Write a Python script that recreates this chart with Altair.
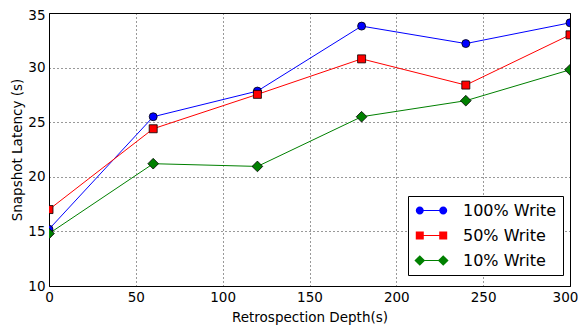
import altair as alt
import pandas as pd

depth = [0, 60, 120, 180, 240, 300]
series_names = ["100% Write", "50% Write", "10% Write"]
write100 = [15.2, 25.5, 27.85, 33.8, 32.2, 34.1]
write50 = [17.0, 24.4, 27.55, 30.8, 28.4, 33.0]
write10 = [14.8, 21.2, 20.95, 25.5, 26.97, 29.8]
x_ticks = [0, 50, 100, 150, 200, 250, 300]
y_ticks = [10, 15, 20, 25, 30, 35]

colors = ["#0000ff", "#ff0000", "#008000"]
shapes = ["circle", "square", "diamond"]
marker_sizes = [64, 64, 114]

rows = []
for rank, (name, vals) in enumerate(zip(series_names, [write100, write50, write10]), start=1):
    for d, v in zip(depth, vals):
        rows.append({"depth": d, "latency": v, "series": name, "rank": rank})
df = pd.DataFrame(rows)

FONT = "DejaVu Sans"

# legend glyphs (matplotlib style: marker - line - marker), unit coords of the legend symbol
L, R = -0.34, 2.59


def pair_circle(r=0.5):
    out = ""
    for c in (L, R):
        out += f"M{c + r},0A{r},{r} 0 1,1 {c - r},0A{r},{r} 0 1,1 {c + r},0Z"
    return out


def pair_square(r=0.5):
    return "".join(f"M{c - r},{-r}L{c + r},{-r}L{c + r},{r}L{c - r},{r}Z" for c in (L, R))


def pair_diamond(d=0.67):
    return "".join(f"M{c},{-d}L{c + d},0L{c},{d}L{c - d},0Z" for c in (L, R))


legend_glyphs = [pair_circle(), pair_square(), pair_diamond()]

x = alt.X("depth:Q", title="Retrospection Depth(s)",
          scale=alt.Scale(domain=[0, 300], nice=False),
          axis=alt.Axis(values=x_ticks, format="d",
                        labelOffset={"condition": {"test": "datum.value == 300", "value": -5},
                                     "value": 0}))
y = alt.Y("latency:Q", title="Snapshot Latency (s)",
          scale=alt.Scale(domain=[10, 35], nice=False),
          axis=alt.Axis(values=y_ticks, format="d",
                        labelOffset={"condition": {"test": "datum.value == 35", "value": 2},
                                     "value": 0}))

LX, LY = 359, 183
common_leg = dict(title=None, orient="none", legendX=LX, legendY=LY, padding=6,
                  symbolSize=256, symbolStrokeWidth=1, rowPadding=8,
                  labelFontSize=16, labelFont=FONT, labelOffset=32)

base = alt.Chart(df)

lines = base.mark_line(strokeWidth=1, clip=True).encode(
    x=x, y=y,
    color=alt.Color("series:N", scale=alt.Scale(domain=series_names, range=colors),
                    legend=alt.Legend(symbolType=f"M{L},0L{R},0", strokeColor="black",
                                      fillColor="white", labelColor="black", **common_leg)),
)

legend_layer = base.mark_point(filled=True, opacity=0).encode(
    x=x, y=y,
    fill=alt.Fill("rank:N", scale=alt.Scale(range=colors),
                  legend=alt.Legend(symbolStrokeColor="black", symbolOpacity=1,
                                    labelExpr="''", **common_leg)),
    shape=alt.Shape("rank:N", scale=alt.Scale(range=legend_glyphs),
                    legend=alt.Legend(symbolStrokeColor="black", symbolOpacity=1,
                                      labelExpr="''", **common_leg)),
)

point_layers = []
for name, col, shp, sz in zip(series_names, colors, shapes, marker_sizes):
    point_layers.append(
        base.transform_filter(alt.datum.series == name).mark_point(
            filled=True, fill=col, shape=shp, size=sz, stroke="black",
            strokeWidth=0.8, opacity=1, clip=True,
        ).encode(x=x, y=y)
    )

chart = alt.layer(lines, *point_layers, legend_layer).properties(
    width=521, height=273,
    autosize=alt.AutoSizeParams(type="none"),
    padding={"left": 41, "top": 5, "right": 8, "bottom": 40},
).configure_view(
    stroke="black", strokeWidth=1
).configure_axis(
    grid=True, gridColor="black", gridDash=[1, 3], gridOpacity=0.8, gridWidth=1,
    domain=False, ticks=False, labelFlush=False,
    labelFont=FONT, labelFontSize=13.5, labelColor="black", labelPadding=4,
    titleFont=FONT, titleFontSize=13.5, titleFontWeight="normal", titleColor="black",
).configure_axisY(titlePadding=3).configure_axisX(titlePadding=7).configure_legend(
    cornerRadius=0,
)

chart.save("out.html", embed_options={"renderer": "svg", "actions": False})
